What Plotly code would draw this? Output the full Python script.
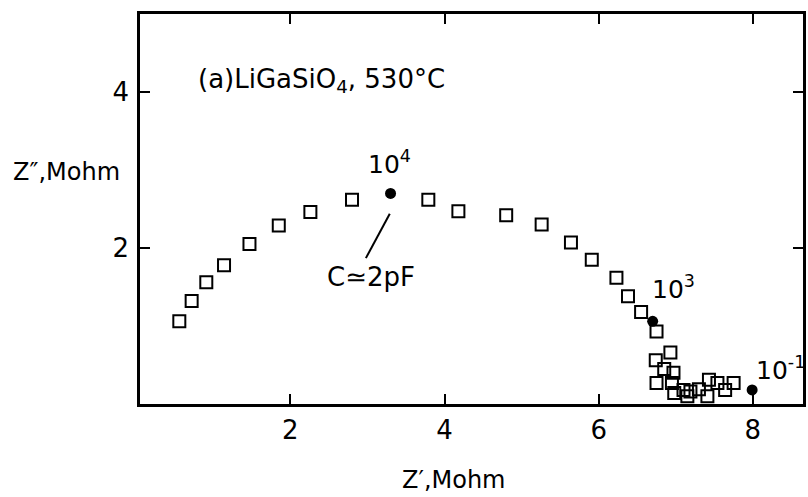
import plotly.graph_objects as go

# Z' / Z'' (Mohm), open squares
z_real = [0.56, 0.72, 0.91, 1.14, 1.47, 1.85, 2.26, 2.80, 3.79, 4.18, 4.80, 5.26,
          5.64, 5.91, 6.23, 6.38, 6.55, 6.75, 6.93, 6.74, 6.85, 6.97, 6.75, 6.95,
          6.98, 7.10, 7.19, 7.30, 7.15, 7.43, 7.41, 7.54, 7.64, 7.75]
z_imag = [1.06, 1.32, 1.56, 1.78, 2.05, 2.29, 2.46, 2.62, 2.62, 2.47, 2.42, 2.30,
          2.07, 1.85, 1.62, 1.38, 1.18, 0.93, 0.66, 0.56, 0.45, 0.40, 0.27, 0.27,
          0.14, 0.18, 0.16, 0.19, 0.10, 0.31, 0.10, 0.27, 0.18, 0.27]

# marked frequencies (filled dots)
freq_real = [3.30, 6.70, 7.99]
freq_imag = [2.70, 1.06, 0.18]
freq_labels = ["10<sup>4</sup>", "10<sup>3</sup>", "10<sup>-1</sup>"]

x_ticks = [2, 4, 6, 8]
y_ticks = [2, 4]

FONT = "DejaVu Sans"

fig = go.Figure()

fig.add_trace(go.Scatter(
    x=z_real, y=z_imag, mode="markers",
    marker=dict(symbol="square-open", size=12, color="black", line=dict(width=2)),
    cliponaxis=False, showlegend=False
))

fig.add_trace(go.Scatter(
    x=freq_real, y=freq_imag, mode="markers",
    marker=dict(symbol="circle", size=11, color="black"),
    cliponaxis=False, showlegend=False
))

# frequency labels
label_pos = [(3.28, 3.09, "center"), (6.97, 1.50, "center"), (8.02, 0.46, "left")]
for (lx, ly, anc), txt in zip(label_pos, freq_labels):
    fig.add_annotation(x=lx, y=ly, text=txt, showarrow=False, xanchor=anc,
                       font=dict(size=25, color="black", family=FONT))

# capacitance note with its pointer line
fig.add_shape(type="line", x0=3.29, y0=2.44, x1=2.98, y1=1.87,
              line=dict(color="black", width=2))
fig.add_annotation(x=3.05, y=1.63, text="C≃2pF", showarrow=False,
                   font=dict(size=26, color="black", family=FONT))

fig.add_annotation(x=2.40, y=4.15, text="(a)LiGaSiO<sub>4</sub>, 530°C", showarrow=False,
                   font=dict(size=26, color="black", family=FONT))

# axis titles
fig.add_annotation(xref="paper", yref="paper", x=-0.111, y=0.595, text="Z″,Mohm",
                   showarrow=False, xanchor="center", yanchor="middle",
                   font=dict(size=24, color="black", family=FONT))
fig.add_annotation(xref="paper", yref="paper", x=0.474, y=-0.195, text="Z′,Mohm",
                   showarrow=False, xanchor="center", yanchor="middle",
                   font=dict(size=24, color="black", family=FONT))

axis_style = dict(
    showgrid=False, zeroline=False, showline=True, linecolor="black", linewidth=2.5,
    mirror="ticks", ticks="inside", ticklen=10, tickwidth=2, tickcolor="black",
    tickfont=dict(size=26, color="black", family=FONT)
)

fig.update_xaxes(range=[0.05, 8.65], tickvals=x_ticks, ticklabelstandoff=1, **axis_style)
fig.update_yaxes(range=[0, 5], tickvals=y_ticks, ticklabelstandoff=3, **axis_style)

fig.update_layout(
    width=808, height=497,
    margin=dict(l=140, r=2, t=14, b=93),
    plot_bgcolor="white", paper_bgcolor="white",
    showlegend=False
)

# drop the browser's default body margin so the figure sits at the page corner
fig.write_html("out.html", config={"displayModeBar": False},
               post_script="document.body.style.margin='0';")
